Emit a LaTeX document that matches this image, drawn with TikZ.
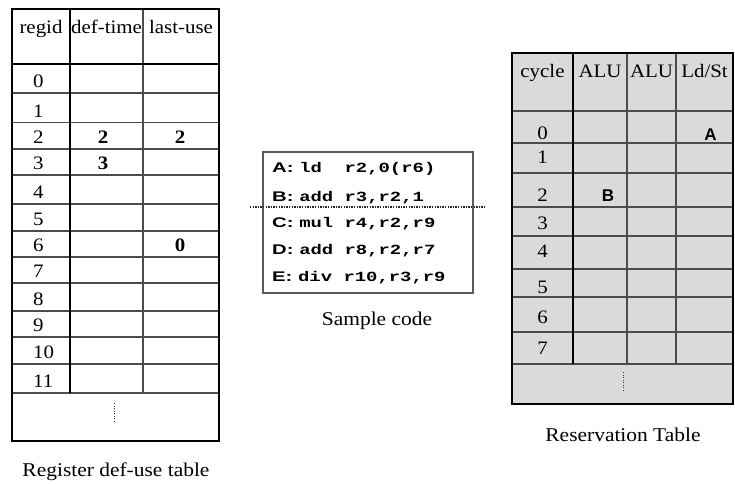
\documentclass[tikz,border=0pt]{standalone}
\usepackage{fontspec}
\setmainfont{Liberation Serif}[FakeStretch=1.1]
\newfontfamily\codefont{Liberation Mono}[FakeStretch=1.35]
\newfontfamily\labfont{Liberation Sans}[FakeStretch=1.45]
\newfontfamily\markfont{Liberation Sans}
\definecolor{resgrey}{RGB}{218,218,218}

\begin{document}
\begin{tikzpicture}[x=1pt,y=-1pt,
  gridthin/.style={line width=1.1pt, draw=black!70},
  gridthick/.style={line width=2pt, draw=black},
  celltext/.style={font=\fontsize{19}{19}\selectfont, anchor=base, inner sep=0pt},
  boldtext/.style={font=\fontsize{19}{19}\selectfont\bfseries, anchor=base, inner sep=0pt},
  marktext/.style={font=\markfont\fontsize{17}{17}\selectfont\bfseries, anchor=base, inner sep=0pt},
  codeline/.style={font=\fontsize{14}{14}\selectfont, anchor=base west, inner sep=0pt},
  captext/.style={font=\fontsize{19.5}{19.5}\selectfont, anchor=base, inner sep=0pt},
  vdots/.style={line width=0.8pt, dash pattern=on 1pt off 1.5pt, draw=black!80},
]
\useasboundingbox (0,0) rectangle (735,483);

% ---------- register def-use table ----------
\foreach \y in {93,122.5,149,175,204,231,257,283,311,337,364,393}
  \draw[gridthin] (12,\y) -- (219,\y);
\draw[gridthin] (143,9) -- (143,393);
\draw[gridthick] (70,9) -- (70,393);
\draw[gridthick] (12,64) -- (219,64);
\draw[gridthick] (12,9) rectangle (219,441);
\draw[vdots] (114,403) -- (114,423);

\node[celltext] (hregid) at (41,33) {regid};
\node[celltext] (hdef) at (106.5,33) {def-time};
\node[celltext] (hlast) at (181,33) {last-use};

\foreach \n/\b in {0/87.5,1/117,2/143.5,3/169.5,4/198.5,5/225.5,6/251.5,
                   7/277.5,8/305.5,9/331.5,10/358.5,11/387.5}
  \node[celltext, anchor=base west] (reg\n) at (33,\b) {\n};

\node[boldtext] (def2) at (103,143.5) {2};
\node[boldtext] (use2) at (180,143.5) {2};
\node[boldtext] (def3) at (103,169.5) {3};
\node[boldtext] (use6) at (180,251.5) {0};

\node[captext] (capreg) at (116,476) {Register def-use table};

% ---------- sample code ----------
\draw[line width=1.2pt, draw=black!65] (263,152) rectangle (473,293);
\node[codeline] (insA) at (272,172) {\labfont\bfseries A:\ \codefont ld\ \ r2,0(r6)};
\node[codeline] (insB) at (272,201) {\labfont\bfseries B:\ \codefont add r3,r2,1};
\node[codeline] (insC) at (272,227) {\labfont\bfseries C:\ \codefont mul r4,r2,r9};
\node[codeline] (insD) at (272,254) {\labfont\bfseries D:\ \codefont add r8,r2,r7};
\node[codeline] (insE) at (272,281) {\labfont\bfseries E:\ \codefont div r10,r3,r9};
\draw[line width=2pt, dash pattern=on 1.4pt off 1.2pt, draw=black!85] (250,207) -- (485,207);
\node[captext] (capcode) at (377,325) {Sample code};

% ---------- reservation table ----------
\fill[resgrey] (512,53) rectangle (733,404);
\foreach \y in {111,143,173,207,236,269,297,332,364}
  \draw[gridthin] (512,\y) -- (733,\y);
\draw[gridthin] (627,53) -- (627,364);
\draw[gridthin] (676,53) -- (676,364);
\draw[gridthick] (573,53) -- (573,364);
\draw[gridthick] (512,53) rectangle (733,404);
\draw[vdots] (623,372) -- (623,392);

\node[celltext] (hcycle) at (542.5,77.5) {cycle};
\node[celltext] (halu1) at (600,77.5) {ALU};
\node[celltext] (halu2) at (651.5,77.5) {ALU};
\node[celltext] (hldst) at (704.5,77.5) {Ld/St};

\foreach \n/\b in {0/139,1/163,2/201,3/229,4/257,5/293,6/323,7/354}
  \node[celltext] (cyc\n) at (542.5,\b) {\n};

\node[marktext] (slotA) at (710.5,140) {A};
\node[marktext] (slotB) at (608,201) {B};

\node[captext] (capres) at (623,441.5) {Reservation Table};
\end{tikzpicture}
\end{document}
